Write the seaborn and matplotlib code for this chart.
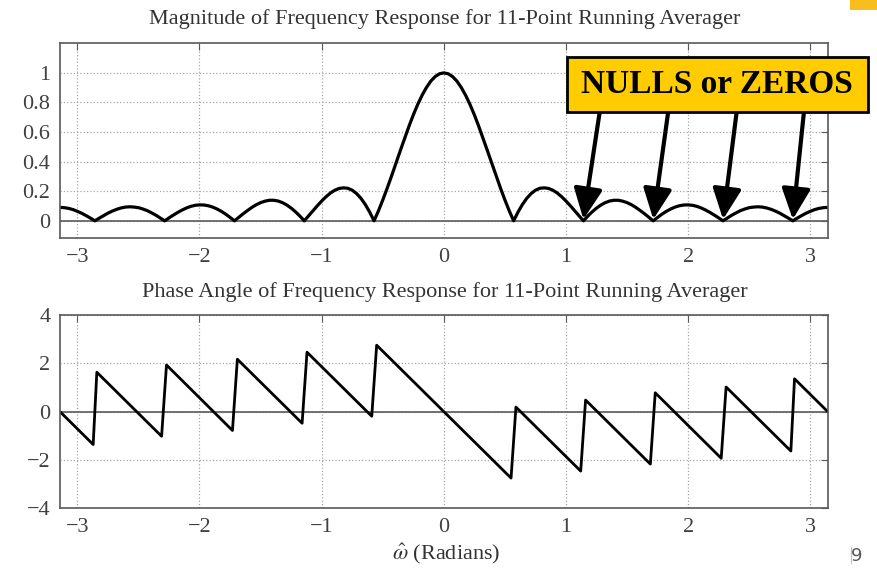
import numpy as np
import matplotlib.pyplot as plt
import seaborn as sns
from matplotlib.patches import Rectangle
from matplotlib.lines import Line2D

# magnitude |H| read on 0..pi (89 samples), curve is symmetric in omega
mag_half = [1.000, 0.994, 0.975, 0.944, 0.901, 0.848, 0.786, 0.716, 0.639,
            0.557, 0.473, 0.388, 0.302, 0.220, 0.141, 0.067, 0.000,
            0.059, 0.110, 0.152, 0.184, 0.207, 0.220, 0.223, 0.219,
            0.207, 0.188, 0.163, 0.134, 0.102, 0.068, 0.034, 0.000,
            0.032, 0.061, 0.086, 0.107, 0.123, 0.134, 0.139, 0.139,
            0.133, 0.123, 0.109, 0.091, 0.070, 0.048, 0.024, 0.000,
            0.023, 0.045, 0.064, 0.080, 0.093, 0.102, 0.107, 0.108,
            0.105, 0.098, 0.087, 0.073, 0.057, 0.039, 0.020, 0.000,
            0.019, 0.038, 0.054, 0.069, 0.080, 0.089, 0.093, 0.095,
            0.093, 0.087, 0.078, 0.066, 0.052, 0.035, 0.018, 0.000,
            0.018, 0.035, 0.051, 0.064, 0.076, 0.084, 0.089, 0.091]
w_half = np.linspace(0, np.pi, len(mag_half))

# phase angle corners (saw-tooth)
phase_w = [-3.1416, -2.87, -2.84, -2.31, -2.27, -1.73, -1.69, -1.16, -1.12, -0.59, -0.55,
           0.0, 0.55, 0.59, 1.12, 1.16, 1.69, 1.73, 2.27, 2.31, 2.84, 2.87, 3.1416]
phase_val = [0.0, -1.36, 1.63, -1.02, 1.93, -0.78, 2.17, -0.48, 2.46, -0.19, 2.75,
             0.0, -2.75, 0.19, -2.46, 0.48, -2.17, 0.78, -1.93, 1.02, -1.63, 1.36, 0.0]

null_w = [1.142, 1.714, 2.285, 2.856]
arrow_tail_w = [1.28, 1.84, 2.40, 2.95]

mag_w = np.concatenate([-w_half[::-1][:-1], w_half])
mag_full = np.concatenate([np.array(mag_half)[::-1][:-1], mag_half])

sns.set_style('white')
plt.rcParams['font.family'] = ['Liberation Serif', 'DejaVu Serif']
plt.rcParams['mathtext.fontset'] = 'stix'

fig = plt.figure(figsize=(8.77, 5.69), dpi=100)
ax1 = fig.add_axes([0.0684, 0.5812, 0.8754, 0.3427])
ax2 = fig.add_axes([0.0684, 0.1067, 0.8754, 0.3397])

sns.lineplot(x=mag_w, y=mag_full, ax=ax1, color='black', lw=2.3,
             sort=False, estimator=None)
sns.lineplot(x=phase_w, y=phase_val, ax=ax2, color='black', lw=2.0,
             sort=False, estimator=None)

for ax in (ax1, ax2):
    ax.set_xlim(-np.pi, np.pi)
    ax.set_xticks([-3, -2, -1, 0, 1, 2, 3])
    ax.axhline(0, color='0.4', lw=1.3, zorder=1)
    ax.grid(True, ls=':', color='0.65', lw=0.9)
    ax.tick_params(direction='in', top=True, right=True, length=5,
                   color='0.35', labelsize=16, labelcolor='0.25', pad=7)
    for s in ax.spines.values():
        s.set_color('0.35')
        s.set_linewidth(1.2)
    ax.set_xlabel('')
    ax.set_ylabel('')

ax1.set_ylim(-0.118, 1.2)
ax1.set_yticks([0, 0.2, 0.4, 0.6, 0.8, 1])
ax1.set_yticklabels(['0', '0.2', '0.4', '0.6', '0.8', '1'])
ax2.set_ylim(-4, 4)
ax2.set_yticks([-4, -2, 0, 2, 4])

fig.text(0.507, 0.966, 'Magnitude of Frequency Response for 11-Point Running Averager',
         ha='center', va='center', fontsize=16, color='0.2')
fig.text(0.507, 0.487, 'Phase Angle of Frequency Response for 11-Point Running Averager',
         ha='center', va='center', fontsize=16, color='0.2')
fig.text(0.509, 0.026, r'$\hat{\omega}$ (Radians)', ha='center', va='center',
         fontsize=16, color='0.2')

# arrows pointing at nulls
for nw, tw in zip(null_w, arrow_tail_w):
    ax1.annotate('', xy=(nw, 0.01), xytext=(tw, 0.76),
                 arrowprops=dict(arrowstyle='-|>,head_length=0.75,head_width=0.35',
                                 lw=3, color='black', mutation_scale=25,
                                 shrinkA=0, shrinkB=0))

# yellow label box
fig.patches.append(Rectangle((566.7 / 877, 1 - 111.7 / 569), 301.3 / 877, 55 / 569,
                             transform=fig.transFigure, facecolor='#FFCC00',
                             edgecolor='black', lw=2, zorder=5))
fig.text(717.3 / 877, 1 - 84.5 / 569, 'NULLS or ZEROS', ha='center', va='center',
         fontsize=24, fontweight='bold', color='black', zorder=6)

# slide decorations
fig.patches.append(Rectangle((850 / 877, 1 - 10 / 569), 27 / 877, 10 / 569,
                             transform=fig.transFigure, facecolor='#F7BE1E',
                             edgecolor='none', zorder=5))
fig.add_artist(Line2D([851 / 877, 851 / 877], [1 - 563 / 569, 1 - 547 / 569],
                      color='0.75', lw=0.8))
fig.text(857 / 877, 1 - 556 / 569, '9', ha='center', va='center', fontsize=13,
         color='0.35', family='DejaVu Sans')

plt.savefig('out.png', dpi=100)
